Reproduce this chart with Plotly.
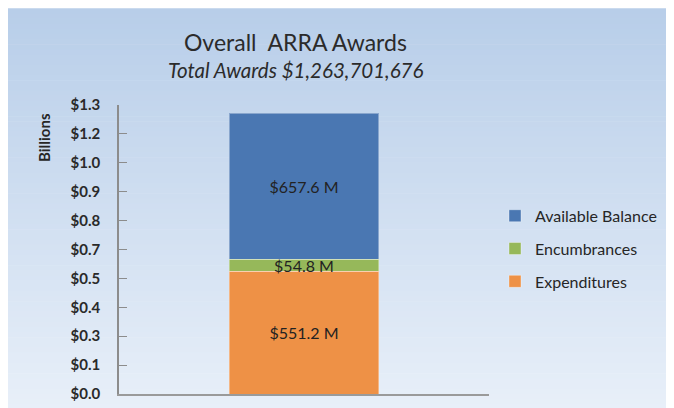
import plotly.graph_objects as go

# ---- data (billions of dollars) ----
categories = ["Overall ARRA Awards"]
series_names = ["Expenditures", "Encumbrances", "Available Balance"]
expenditures = [0.5512]
encumbrances = [0.0548]
available_balance = [0.6576]
series_colors = ["#EE9146", "#96B85A", "#4A77B2"]
legend_ranks = [3, 2, 1]
tick_step = 0.13
tick_labels = ["$0.0", "$0.1", "$0.3", "$0.4", "$0.5", "$0.7", "$0.8",
               "$0.9", "$1.0", "$1.2", "$1.3"]

series_values = [expenditures, encumbrances, available_balance]

fig = go.Figure()

# page body has an 8px margin; convert screen px to figure px
OFF = 8
W, H = 674, 408
L, R, T, B = 119 - OFF, 674 - (489 - OFF), 105 - OFF, 408 - (394.5 - OFF)
pw, ph = W - L - R, H - T - B
def px_to_paper_x(x):
    return (x - OFF - L) / pw
def px_to_paper_y(y):
    return (H - B - (y - OFF)) / ph

# gradient background (decorative)
top_c = (184, 206, 233)
bot_c = (233, 240, 249)
n_bands = 80
y0, y1 = 8, 420
for i in range(n_bands):
    f = i / (n_bands - 1)
    c = tuple(round(top_c[k] + (bot_c[k] - top_c[k]) * f) for k in range(3))
    ya = y0 + (y1 - y0) * i / n_bands
    yb = y0 + (y1 - y0) * (i + 1) / n_bands + 0.6
    fig.add_shape(type="rect", xref="paper", yref="paper",
                  x0=px_to_paper_x(8), x1=px_to_paper_x(W + 20),
                  y0=px_to_paper_y(yb), y1=px_to_paper_y(ya),
                  fillcolor="rgb(%d,%d,%d)" % c, line_width=0, layer="below")

for name, vals, col, rk in zip(series_names, series_values, series_colors, legend_ranks):
    fig.add_trace(go.Bar(
        x=categories, y=vals, name=name, legendgroup=name, legendrank=rk,
        marker=dict(color=col, line=dict(color="rgba(255,255,255,0.35)", width=1)),
        text=["$%.1f M" % (v * 1000) for v in vals],
        textposition="inside", insidetextanchor="middle",
        constraintext="none",
        textfont=dict(family="Lato, sans-serif", size=16, color="#222222"),
        width=0.403, hoverinfo="skip",
    ))

tickvals = [round(tick_step * i, 2) for i in range(len(tick_labels))]

fig.update_layout(
    width=W, height=H,
    barmode="stack",
    paper_bgcolor="white",
    plot_bgcolor="rgba(0,0,0,0)",
    margin=dict(l=L, r=R, t=T, b=B),
    font=dict(family="Lato, sans-serif", color="#262626"),
    showlegend=True,
    legend=dict(
        x=px_to_paper_x(495), y=px_to_paper_y(199), xanchor="left", yanchor="top",
        traceorder="grouped", tracegroupgap=9,
        font=dict(size=16, color="#262626"), bgcolor="rgba(0,0,0,0)",
    ),
    xaxis=dict(showticklabels=False, showgrid=False, zeroline=False,
               showline=True, linecolor="#9a9a9a", linewidth=2,
               ticks="", range=[-0.5, 0.5]),
    yaxis=dict(range=[0, 1.3], tickvals=tickvals, ticktext=tick_labels,
               showgrid=False, zeroline=False, showline=True,
               linecolor="#8c8c8c", linewidth=1.5,
               ticks="inside", ticklen=8, tickcolor="#8c8c8c", tickwidth=1,
               ticklabelstandoff=14,
               tickfont=dict(size=15, family="Lato, sans-serif", color="#2a2a2a",
                             weight="bold")),
    annotations=[
        dict(text="Overall  ARRA Awards", xref="paper", yref="paper",
             x=px_to_paper_x(295), y=px_to_paper_y(42), showarrow=False,
             xanchor="center", yanchor="middle",
             font=dict(size=23, color="#2b2b2b")),
        dict(text="<i>Total Awards $1,263,701,676</i>", xref="paper", yref="paper",
             x=px_to_paper_x(295), y=px_to_paper_y(70), showarrow=False,
             xanchor="center", yanchor="middle",
             font=dict(size=20.5, color="#2b2b2b")),
        dict(text="<b>Billions</b>", xref="paper", yref="paper",
             x=px_to_paper_x(44), y=px_to_paper_y(138), showarrow=False,
             xanchor="center", yanchor="middle",
             textangle=-90, font=dict(size=15, color="#262626")),
    ],
)

fig.write_html("out.html")
